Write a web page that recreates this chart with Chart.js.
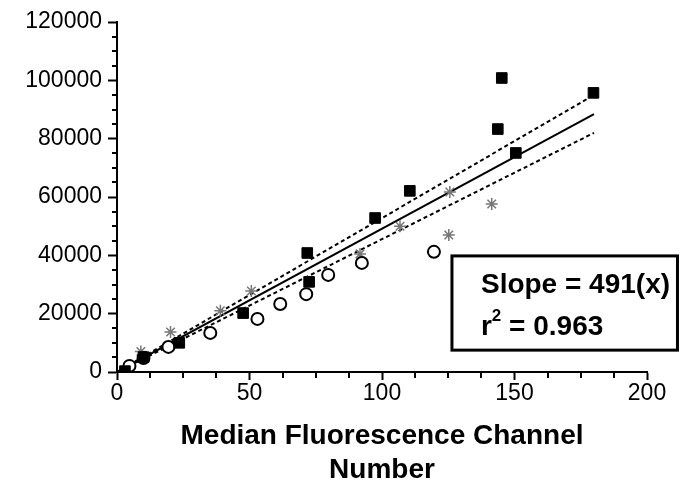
<!DOCTYPE html>
<html><head><meta charset="utf-8">
<script src="https://cdn.jsdelivr.net/npm/chart.js@4/dist/chart.umd.min.js"></script>
<style>html,body{margin:0;padding:0;background:#fff;}</style>
</head><body>
<canvas id="c" width="687" height="487"></canvas>
<script>
// ---- data ----
const squaresX = [3, 10, 23.5, 47.6, 71.8, 72.5, 97.4, 110.5, 143.7, 145.2, 150.5, 179.8];
const squaresY = [300, 5100, 10000, 20200, 40800, 30900, 52800, 62100, 83300, 100800, 75100, 95700];
const circlesX = [4.7, 10, 19.4, 35.2, 53, 61.6, 71.4, 79.7, 92.4, 119.6];
const circlesY = [2100, 4800, 8600, 13400, 18200, 23300, 26700, 33300, 37400, 41200];
const starsX = [9, 20.2, 39, 50.7, 91.7, 106.8, 125.2, 125.6, 141.4];
const starsY = [7000, 13700, 21000, 27800, 40500, 50000, 47000, 61700, 57600];
const fitX = [0, 180];
const fitY = [0, 88380];
const upperY = [0, 95000];
const lowerY = [0, 82000];
const xTicks = [0, 50, 100, 150, 200];
const yTicks = [0, 20000, 40000, 60000, 80000, 100000, 120000];
const slopeText = 'Slope = 491(x)';
const r2Value = ' = 0.963';
// annotation box corners in data units
const boxX = [126.4, 211.5];
const boxY = [39800, 7500];

const pts = (xs, ys) => xs.map((x, i) => ({x, y: ys[i]}));
const FONT = '"Liberation Sans", Arial, Helvetica, sans-serif';

const minorTicks = {
  id: 'minorTicks',
  afterDraw(chart) {
    const {ctx} = chart;
    const xs = chart.scales.x, ys = chart.scales.y;
    ctx.save();
    ctx.strokeStyle = '#000';
    ctx.lineWidth = 2;
    const ax = xs.left, ay = ys.bottom;
    for (let v = 0; v <= 120000; v += 5000) {
      if (v % 20000 === 0) continue;
      const p = Math.round(ys.getPixelForValue(v));
      ctx.beginPath(); ctx.moveTo(ax - 5, p); ctx.lineTo(ax + 1, p); ctx.stroke();
    }
    for (let v = 0; v <= 200; v += 12.5) {
      if (v % 50 === 0) continue;
      const p = Math.round(xs.getPixelForValue(v));
      ctx.beginPath(); ctx.moveTo(p, ay - 1); ctx.lineTo(p, ay + 6); ctx.stroke();
    }
    ctx.restore();
  }
};

const statBox = {
  id: 'statBox',
  afterDraw(chart) {
    const {ctx} = chart;
    const xs = chart.scales.x, ys = chart.scales.y;
    const l = xs.getPixelForValue(boxX[0]), r = xs.getPixelForValue(boxX[1]);
    const t = ys.getPixelForValue(boxY[0]), b = ys.getPixelForValue(boxY[1]);
    ctx.save();
    ctx.fillStyle = '#fff';
    ctx.fillRect(l, t, r - l, b - t);
    ctx.strokeStyle = '#000';
    ctx.lineWidth = 3;
    ctx.strokeRect(l, t, r - l, b - t);
    ctx.fillStyle = '#000';
    ctx.textBaseline = 'alphabetic';
    ctx.textAlign = 'left';
    ctx.font = 'bold 28px ' + FONT;
    const tx = l + 29;
    ctx.fillText(slopeText, tx, t + 37);
    const by = t + 79;
    ctx.fillText('r', tx, by);
    const rw = ctx.measureText('r').width;
    ctx.font = 'bold 17px ' + FONT;
    ctx.fillText('2', tx + rw, by - 14);
    const sw = ctx.measureText('2').width;
    ctx.font = 'bold 28px ' + FONT;
    ctx.fillText(r2Value, tx + rw + sw, by);
    ctx.restore();
  }
};

new Chart(document.getElementById('c'), {
  type: 'scatter',
  data: {
    datasets: [
      {label: 'fit', data: pts(fitX, fitY), showLine: true, borderColor: '#000', borderWidth: 2, pointRadius: 0, order: 10},
      {label: 'upper', data: pts(fitX, upperY), showLine: true, borderColor: '#000', borderWidth: 2, borderDash: [4, 3], pointRadius: 0, order: 10},
      {label: 'lower', data: pts(fitX, lowerY), showLine: true, borderColor: '#000', borderWidth: 2, borderDash: [4, 3], pointRadius: 0, order: 10},
      {label: 'stars', data: pts(starsX, starsY), pointStyle: 'star', pointRadius: 6, borderColor: '#777', borderWidth: 1.5, backgroundColor: '#777', order: 3},
      {label: 'circles', data: pts(circlesX, circlesY), pointStyle: 'circle', pointRadius: 6, borderColor: '#000', borderWidth: 2, backgroundColor: '#fff', order: 2},
      {label: 'squares', data: pts(squaresX, squaresY), pointStyle: 'rect', pointRadius: 7.5, borderColor: '#000', borderWidth: 1, backgroundColor: '#000', order: 1}
    ]
  },
  options: {
    responsive: false,
    animation: false,
    devicePixelRatio: 1,
    layout: {padding: {top: 22, right: 40, left: 0, bottom: 0}},
    plugins: {legend: {display: false}, tooltip: {enabled: false}},
    scales: {
      x: {
        type: 'linear', min: 0, max: 200,
        afterBuildTicks: s => { s.ticks = xTicks.map(v => ({value: v})); },
        ticks: {color: '#000', font: {family: FONT, size: 23}, padding: 0, maxRotation: 0, callback: v => String(v)},
        grid: {display: true, drawOnChartArea: false, drawTicks: true, tickLength: 8, tickColor: '#000', tickWidth: 2},
        border: {display: true, color: '#000', width: 2},
        title: {display: true, text: ['Median Fluorescence Channel', 'Number'], color: '#000', font: {family: FONT, size: 28, weight: 'bold', lineHeight: 1.2}, padding: 0},
        afterFit: s => { s.height = 115; }
      },
      y: {
        type: 'linear', min: 0, max: 120000,
        afterBuildTicks: s => { s.ticks = yTicks.map(v => ({value: v})); },
        ticks: {color: '#000', font: {family: FONT, size: 23}, padding: 6, callback: v => String(v)},
        grid: {display: true, drawOnChartArea: false, drawTicks: true, tickLength: 9, tickColor: '#000', tickWidth: 2},
        border: {display: true, color: '#000', width: 2},
        afterFit: s => { s.width = 117; }
      }
    }
  },
  plugins: [minorTicks, statBox]
});
</script>
</body></html>
